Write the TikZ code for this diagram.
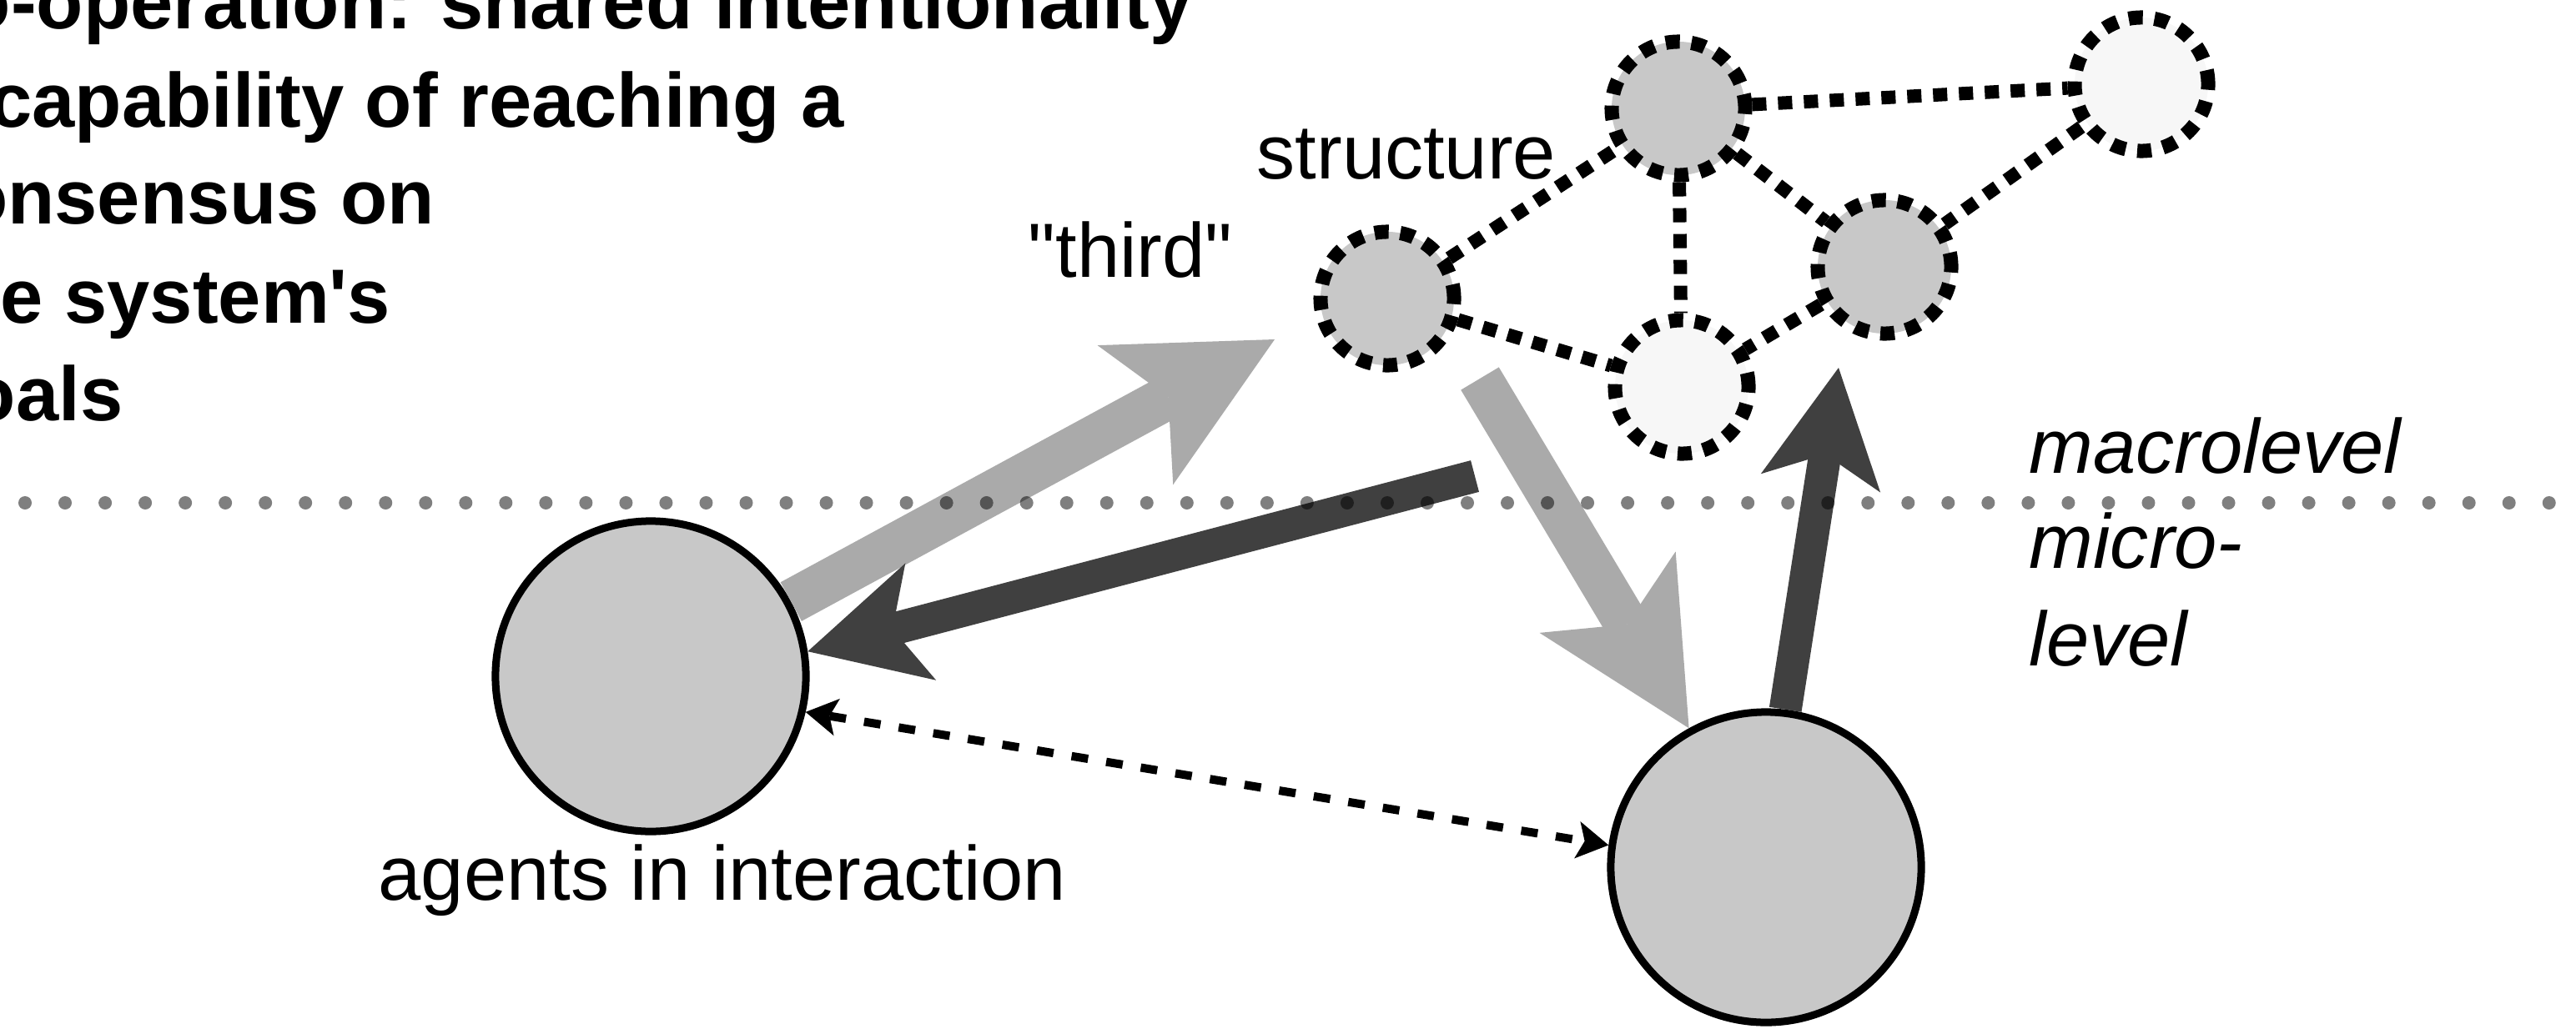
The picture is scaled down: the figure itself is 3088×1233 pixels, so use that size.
\documentclass[tikz,border=0pt]{standalone}
\usepackage{fontspec}
\setmainfont{Liberation Sans}[Ligatures=TeXOff]
\usetikzlibrary{arrows.meta}
\definecolor{nodegray}{HTML}{C8C8C8}
\definecolor{nodelight}{HTML}{F7F7F7}
\definecolor{arrowlight}{HTML}{AAAAAA}
\definecolor{arrowdark}{HTML}{404040}
\tikzset{
  agentnode/.style={circle, draw=black, line width=0.09cm, fill=nodegray, minimum size=3.72cm, inner sep=0pt},
  netnode/.style={circle, draw=black, line width=0.17cm, dash pattern=on 0.17cm off 0.14cm, minimum size=1.6cm, inner sep=0pt},
  netlink/.style={draw=black, line width=0.16cm, dash pattern=on 0.17cm off 0.14cm},
  lightarrow/.style={draw=arrowlight, line width=0.53cm, -{Stealth[length=1.9cm,width=1.9cm,inset=0.45cm,line width=0pt]}},
  darkarrow/.style={draw=arrowdark, line width=0.39cm, -{Stealth[length=1.4cm,width=1.45cm,inset=0.35cm,line width=0pt]}},
  interact/.style={draw=black, line width=0.1cm, dash pattern=on 0.2cm off 0.22cm,
     {Stealth[length=0.38cm,width=0.45cm,inset=0.09cm,line width=0pt]}-{Stealth[length=0.38cm,width=0.45cm,inset=0.09cm,line width=0pt]}},
  txt/.style={inner sep=0pt, font=\fontsize{26.2}{31}\selectfont},
  boldtxt/.style={inner sep=0pt, font=\fontsize{26.2}{31}\selectfont\bfseries, anchor=base east},
  itxt/.style={inner sep=0pt, font=\fontsize{26.2}{31}\selectfont\itshape, anchor=base west},
}
\begin{document}
\begin{tikzpicture}[x=0.01cm, y=-0.01cm]
\useasboundingbox (0,0) rectangle (3088,1233);

% agents
\node[agentnode] (L) at (780,811) {};
\node[agentnode] (R) at (2117,1040) {};

% structure network
\node[netnode, fill=nodegray]  (A) at (1663,358) {};
\node[netnode, fill=nodegray]  (B) at (2012,130) {};
\node[netnode, fill=nodelight] (C) at (2567,101) {};
\node[netnode, fill=nodegray]  (D) at (2259,320) {};
\node[netnode, fill=nodelight] (E) at (2016,464) {};
\draw[netlink] (A) -- (B);
\draw[netlink] (A) -- (E);
\draw[netlink] (B) -- (E);
\draw[netlink] (B) -- (D);
\draw[netlink] (B) -- (C);
\draw[netlink] (C) -- (D);
\draw[netlink] (D) -- (E);

% arrows
\coordinate (t1) at (1528,407);
\coordinate (s2) at (1774,454);
\coordinate (s3) at (1768,571);
\coordinate (t4) at (2204,441);
\draw[lightarrow] (L.28) -- (t1);
\draw[lightarrow] (s2) -- (R.119);
\draw[darkarrow] (s3) -- (L.9);
\draw[darkarrow] (R.83) -- (t4);
\draw[interact] (L.-13) -- (R.172);

% level separator
\draw[black, opacity=0.5, line width=0.16cm, line cap=round, dash pattern=on 0pt off 0.48cm] (30,603) -- (3088,603);

% texts
\node[boldtxt] (b1) at (1430,34) {o-operation: shared intentionality};
\node[boldtxt] (b2) at (1012,152) {capability of reaching a};
\node[boldtxt] (b3) at (522,268) {onsensus on};
\node[boldtxt] (b4) at (469,387) {e system's};
\node[boldtxt] (b5) at (148,504) {oals};

\node[txt, anchor=base west] (lstruct) at (1506,214) {structure};
\node[txt, anchor=base west] (lthird) at (1232,332) {"third"};
\node[txt, anchor=base west] (lagents) at (453,1079) {agents in interaction};
\node[itxt] (lmacro) at (2432,567) {macrolevel};
\node[itxt] (lmicro) at (2432,681) {micro-};
\node[itxt] (llevel) at (2432,798) {level};
\end{tikzpicture}
\end{document}
